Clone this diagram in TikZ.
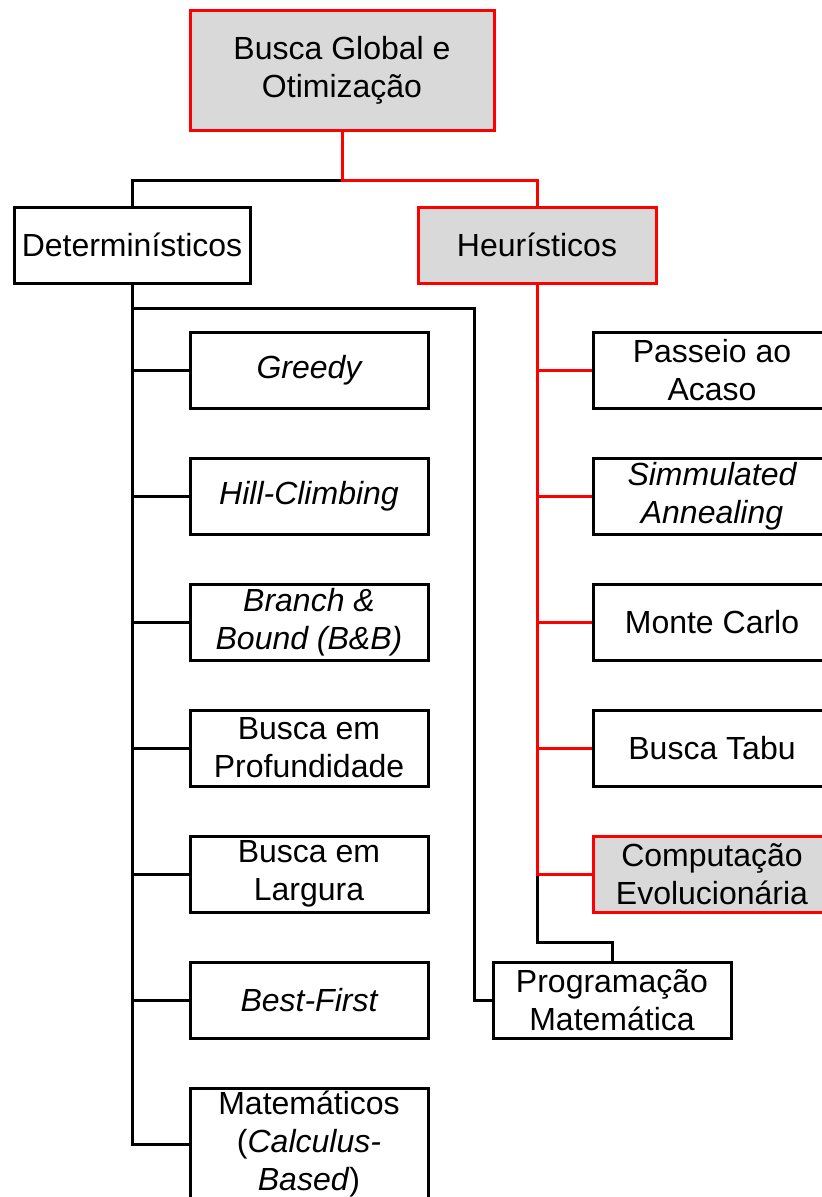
\documentclass[tikz,border=0pt]{standalone}
\usepackage{fontspec}
\setmainfont{Liberation Sans}
\begin{document}
\begin{tikzpicture}[x=1pt,y=-1pt,
  box/.style={draw=black,line width=3pt,fill=white,rectangle,inner sep=0pt,
    minimum width=238pt,minimum height=76pt,align=center,
    font=\fontsize{32}{38}\selectfont},
  hbox/.style={box,draw=red,fill=boxgray},
  blk/.style={draw=black,line width=3pt},
  rdl/.style={draw=red,line width=3pt}]
\definecolor{boxgray}{HTML}{D9D9D9}
\useasboundingbox (0,0) rectangle (822,1197);
\clip (0,0) rectangle (822,1197);
% nodes
\node[hbox,minimum width=304pt,minimum height=120pt] (top) at (342,70) {Busca Global e\\Otimização};
\node[box,minimum width=236pt] (det) at (132,245) {Determinísticos};
\node[hbox,minimum width=238pt] (heu) at (537,245) {Heurísticos};
\node[box] (greedy) at (309,370) {\itshape Greedy};
\node[box] (hill) at (309,496) {\itshape Hill-Climbing};
\node[box] (bb) at (309,622) {\itshape Branch \&\\\itshape Bound (B\&B)};
\node[box] (prof) at (309,748) {Busca em\\Profundidade};
\node[box] (larg) at (309,874) {Busca em\\Largura};
\node[box] (best) at (309,1000) {\itshape Best-First};
\node[box,minimum height=112pt] (mat) at (309,1144) {Matemáticos\\(\textit{Calculus-}\\\textit{Based})};
\node[box] (pass) at (712,370) {Passeio ao\\Acaso};
\node[box] (sim) at (712,496) {\itshape Simmulated\\\itshape Annealing};
\node[box] (mc) at (712,622) {Monte Carlo};
\node[box] (tabu) at (712,748) {Busca Tabu};
\node[hbox] (comp) at (712,874) {Computação\\Evolucionária};
\node[box] (prog) at (612,1000) {Programação\\Matemática};
% junction points
\coordinate (fork) at (342,180);
\coordinate (pj) at (474,308);
\coordinate (hj) at (537,942);
% connectors
\draw[blk] (fork) -| (det.north);
\draw[rdl] (top.south) -- (fork) -| (heu.north);
\draw[blk] (det.south) -- (det.south |- mat.west) -- (mat.west);
\foreach \n in {greedy,hill,bb,prof,larg,best}
  \draw[blk] (det.south |- \n.west) -- (\n.west);
\draw[blk] (det.south) |- (pj) |- (prog.west);
\draw[blk] (heu.south |- comp.west) -- (hj) -| (prog.north);
\draw[rdl] (heu.south) -- (heu.south |- comp.west) -- (comp.west);
\foreach \n in {pass,sim,mc,tabu}
  \draw[rdl] (heu.south |- \n.west) -- (\n.west);
\end{tikzpicture}
\end{document}
